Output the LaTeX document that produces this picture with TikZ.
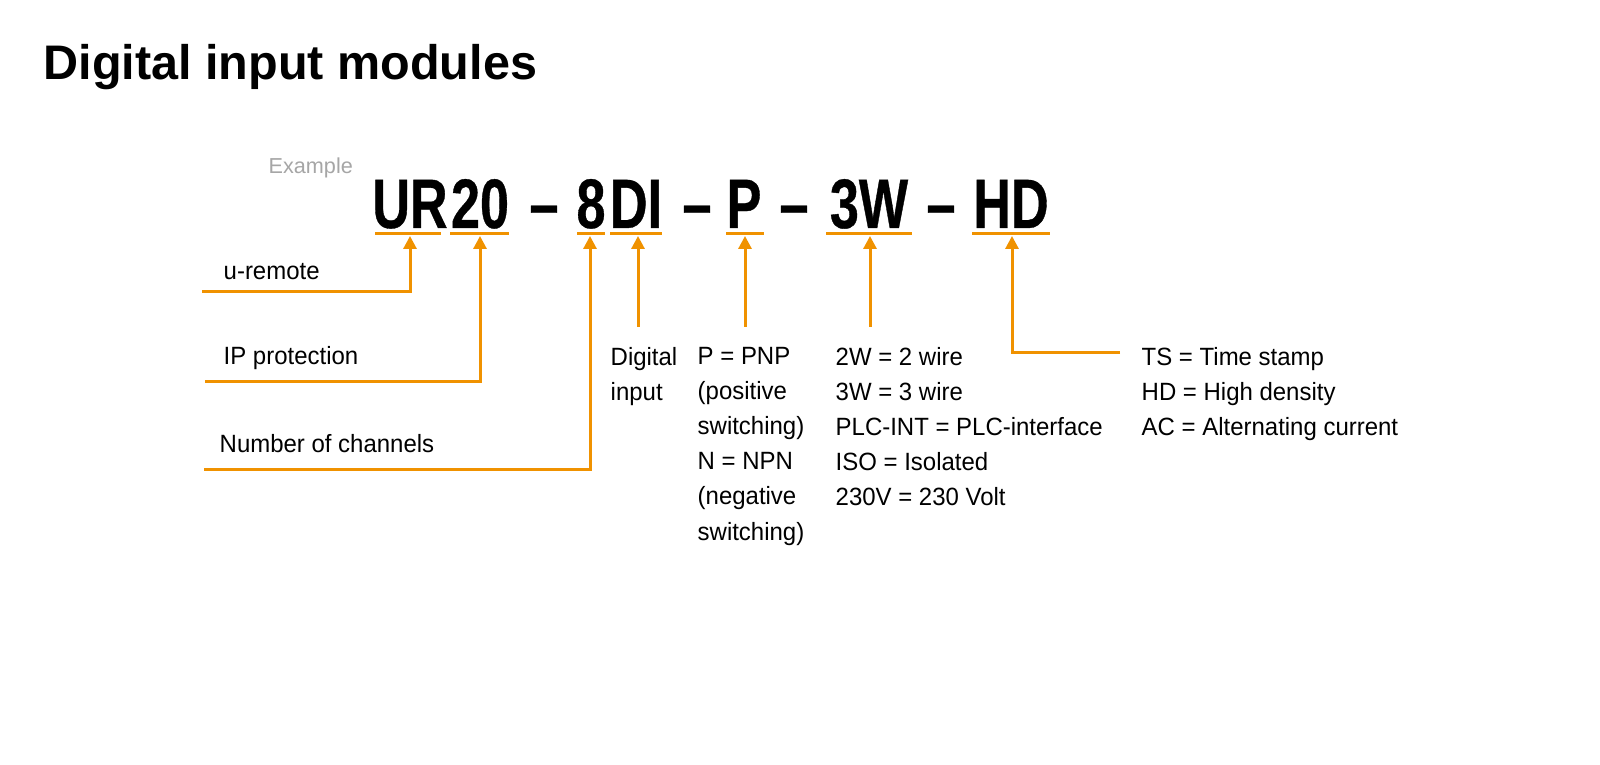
\documentclass[tikz,border=0pt]{standalone}
\usepackage{fontspec}
\setmainfont{Liberation Sans}
\newfontfamily\codefont{Liberation Sans}[FakeStretch=0.745,FakeBold=0.5]
\newfontfamily\labelfont{Liberation Sans}[FakeStretch=0.96]
\usetikzlibrary{arrows.meta}
\definecolor{wmorange}{RGB}{240,146,0}
\definecolor{examplegray}{RGB}{166,166,166}
\begin{document}
\begin{tikzpicture}[x=0.01cm,y=-0.01cm,
    seg/.style={inner sep=0pt,anchor=base,font=\codefont\bfseries\fontsize{19.9}{22}\selectfont},
    lbl/.style={inner sep=0pt,anchor=base west,font=\labelfont\fontsize{7.1}{9.96}\selectfont},
    lblcol/.style={inner sep=0pt,anchor=north west,align=left,font=\labelfont\fontsize{7.1}{9.96}\selectfont},
    uline/.style={draw=wmorange,line width=0.85pt},
    arr/.style={draw=wmorange,line width=0.85pt,-{Triangle[width=0.13cm,length=0.13cm]}}]
                \fill[white] (0,0) rectangle (1600,765);
                \useasboundingbox (0,0) rectangle (1600,765);

                %titolo
                \node[anchor=base west,inner sep=0pt,font=\bfseries\fontsize{13.8}{16}\selectfont] (title) at (43,80) {Digital input modules};
                \node[anchor=base west,inner sep=0pt,text=examplegray,font=\fontsize{6.15}{7.5}\selectfont] (example) at (268,174) {Example};

                %codice
                \node[seg] (ur) at (410,228) {UR};
                \node[seg] (twenty) at (480,228) {20};
                \node[seg] (dash1) at (544,228) {–};
                \node[seg] (eight) at (591,228) {8};
                \node[seg] (di) at (636,228) {DI};
                \node[seg] (dash2) at (697,228) {–};
                \node[seg] (p) at (744,228) {P};
                \node[seg] (dash3) at (794,228) {–};
                \node[seg] (threew) at (869,228) {3W};
                \node[seg] (dash4) at (941,228) {–};
                \node[seg] (hd) at (1011,228) {HD};

                \draw[uline] (375,234) -- (441,234);
                \draw[uline] (450,234) -- (509,234);
                \draw[uline] (577,234) -- (605,234);
                \draw[uline] (610,234) -- (662,234);
                \draw[uline] (726,234) -- (764,234);
                \draw[uline] (826,234) -- (912,234);
                \draw[uline] (972,234) -- (1050,234);

                %etichette
                \node[lbl] (uremote) at (223,280) {u-remote};
                \node[lbl] (ipprot) at (223,365) {IP protection};
                \node[lbl] (channels) at (219,453) {Number of channels};
                \node[lblcol] (digin) at (610,347) {Digital\\input};
                \node[lblcol] (pnp) at (697,347) {P = PNP\\(positive\\switching)\\N = NPN\\(negative\\switching)};
                \node[lblcol] (wires) at (835,347) {2W = 2 wire\\3W = 3 wire\\PLC-INT = PLC-interface\\ISO = Isolated\\230V = 230 Volt};
                \node[lblcol] (hdopt) at (1141,347) {TS = Time stamp\\HD = High density\\AC = Alternating current};

                %punte e piedi delle frecce
                \coordinate (ur-tip) at (410,236);
                \coordinate (twenty-tip) at (480,236);
                \coordinate (eight-tip) at (590,236);
                \coordinate (di-tip) at (638,236);
                \coordinate (p-tip) at (745,236);
                \coordinate (threew-tip) at (870,236);
                \coordinate (hd-tip) at (1012,236);

                \coordinate (ur-foot) at (202,292);
                \coordinate (twenty-foot) at (205,382);
                \coordinate (eight-foot) at (204,470);
                \coordinate (di-foot) at (638,327);
                \coordinate (p-foot) at (745,327);
                \coordinate (threew-foot) at (870,327);
                \coordinate (hd-foot) at (1120,353);

                \draw[arr] (ur-foot) -| (ur-tip);
                \draw[arr] (twenty-foot) -| (twenty-tip);
                \draw[arr] (eight-foot) -| (eight-tip);
                \draw[arr] (di-foot) -- (di-tip);
                \draw[arr] (p-foot) -- (p-tip);
                \draw[arr] (threew-foot) -- (threew-tip);
                \draw[arr] (hd-foot) -| (hd-tip);

            \end{tikzpicture}
\end{document}
